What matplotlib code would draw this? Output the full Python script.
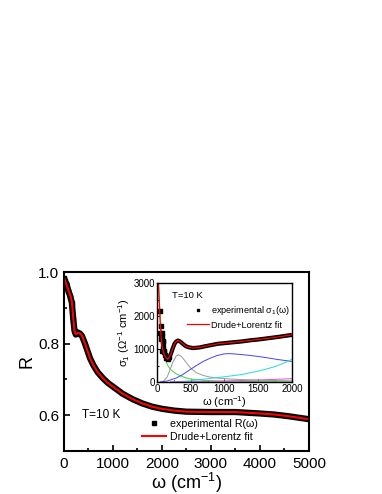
import matplotlib
matplotlib.use("Agg")
import matplotlib.pyplot as plt
from matplotlib.ticker import MultipleLocator

plt.rcParams['font.family'] = ['Liberation Sans', 'DejaVu Sans']
plt.rcParams['mathtext.fontset'] = 'custom'
plt.rcParams['mathtext.rm'] = 'Liberation Sans'
plt.rcParams['mathtext.it'] = 'Liberation Sans:italic'

# main panel: reflectivity
w_R = [0, 20, 50, 90, 130, 160, 190, 215, 240, 290, 330, 370, 430, 530, 600, 690,
       800, 900, 1000, 1200, 1400, 1600, 1800, 2000, 2250, 2500, 3000, 3500,
       4000, 4300, 4600, 5000]
R_exp = [0.985, 0.975, 0.968, 0.948, 0.932, 0.915, 0.868, 0.836, 0.826, 0.831, 0.828,
         0.821, 0.800, 0.760, 0.740, 0.720, 0.703, 0.690, 0.680, 0.660, 0.645, 0.633,
         0.624, 0.618, 0.613, 0.610, 0.609, 0.609, 0.605, 0.602, 0.597, 0.589]
R_fit = [0.985, 0.978, 0.965, 0.950, 0.935, 0.918, 0.870, 0.835, 0.827, 0.830, 0.829,
         0.822, 0.800, 0.760, 0.740, 0.720, 0.703, 0.690, 0.680, 0.660, 0.645, 0.633,
         0.624, 0.618, 0.613, 0.610, 0.609, 0.609, 0.605, 0.602, 0.597, 0.589]

# inset: optical conductivity
w_s = [45, 50, 55, 60, 65, 70, 75, 80, 85, 90, 95, 100, 110, 120, 135, 160, 185, 210,
       235, 260, 285, 310, 335, 360, 400, 435, 480, 535, 585, 635, 700, 800, 900,
       1000, 1100, 1250, 1400, 1500, 1650, 1800, 2000]
s_exp = [1500, 2150, 1700, 1450, 1300, 1500, 950, 1400, 1250, 1050, 1200, 900, 950,
         820, 730, 690, 760, 880, 1030, 1160, 1230, 1260, 1240, 1200, 1130, 1080,
         1050, 1030, 1040, 1050, 1080, 1120, 1160, 1180, 1200, 1230, 1270, 1290,
         1330, 1370, 1430]
w_fit = [20, 30, 40, 50, 60, 75, 90, 110, 135, 160, 185, 210, 235, 260, 285, 310,
         335, 360, 400, 435, 480, 535, 585, 635, 700, 800, 900, 1000, 1100, 1250,
         1400, 1500, 1650, 1800, 2000]
s_fit = [3100, 2600, 2100, 1700, 1400, 1100, 950, 820, 730, 690, 760, 880, 1030,
         1160, 1230, 1260, 1240, 1200, 1130, 1080, 1050, 1030, 1040, 1050, 1080,
         1120, 1160, 1180, 1200, 1230, 1270, 1290, 1330, 1370, 1430]

w_drude = [20, 40, 60, 85, 110, 135, 160, 185, 235, 285, 335, 435, 535, 685, 900,
           1200, 1600, 2000]
s_drude = [3100, 2300, 1700, 1100, 800, 620, 500, 420, 320, 250, 200, 120, 80, 50,
           30, 20, 12, 8]
w_l1 = [50, 100, 150, 185, 235, 285, 320, 360, 400, 450, 500, 585, 685, 785, 900,
        1085, 1300, 1600, 2000]
s_l1 = [0, 30, 150, 330, 600, 790, 830, 780, 680, 550, 420, 280, 200, 150, 120, 90,
        70, 50, 35]
w_l2 = [50, 150, 285, 385, 485, 585, 685, 785, 885, 985, 1035, 1100, 1185, 1300,
        1485, 1650, 1785, 2000]
s_l2 = [0, 30, 120, 230, 370, 500, 625, 720, 800, 850, 860, 860, 845, 825, 780, 730,
        685, 625]
w_l3 = [200, 300, 500, 750, 1000, 1250, 1500, 1650, 1750, 1900, 2000]
s_l3 = [0, 10, 40, 100, 160, 225, 330, 410, 470, 590, 690]
w_l4 = [200, 500, 1000, 1500, 2000]
s_l4 = [0, 8, 30, 60, 100]
w_l5 = [0, 2000]
s_l5 = [10, 10]

fig = plt.figure(figsize=(3.82, 4.94), dpi=100)
ax = fig.add_axes([0.1675, 0.087, 0.641, 0.362])

ax.plot(w_R, R_exp, color='black', lw=4.5, solid_capstyle='butt')
ax.plot(w_R[:9], R_exp[:9], 's', color='black', ms=3.5)
ax.plot(w_R, R_fit, color='red', lw=1.5)
exp_h, = ax.plot([], [], 's', color='black', ms=3.5)
fit_h, = ax.plot([], [], color='red', lw=1.5)

ax.set_xlim(0, 5000)
ax.set_ylim(0.5, 1.0)
ax.xaxis.set_major_locator(MultipleLocator(1000))
ax.xaxis.set_minor_locator(MultipleLocator(500))
ax.yaxis.set_major_locator(MultipleLocator(0.2))
ax.yaxis.set_minor_locator(MultipleLocator(0.1))
ax.tick_params(which='both', direction='in', labelsize=11, width=1.2)
ax.tick_params(which='major', length=4)
ax.tick_params(which='minor', length=2.5)
ax.tick_params(axis='x', pad=4)
for s in ax.spines.values():
    s.set_linewidth(1.5)
ax.set_xlabel('ω (cm$^{-1}$)', fontsize=13, labelpad=0)
ax.set_ylabel('R', fontsize=13, labelpad=2)
ax.text(360, 0.6, 'T=10 K', fontsize=8.5, va='center')
ax.legend([exp_h, fit_h], ['experimental R(ω)', 'Drude+Lorentz fit'],
          loc='upper left', bbox_to_anchor=(0.318, 0.18), frameon=False,
          fontsize=7.7, handlelength=2.3, handletextpad=0.3, borderpad=0,
          borderaxespad=0, labelspacing=0.3)

ins = fig.add_axes([0.411, 0.2267, 0.353, 0.2])
ins.plot(w_drude, s_drude, color='#33dd33', lw=0.7)
ins.plot(w_l1, s_l1, color='#999999', lw=0.7)
ins.plot(w_l2, s_l2, color='#4444ee', lw=0.7)
ins.plot(w_l3, s_l3, color='#22dddd', lw=0.7)
ins.plot(w_l4, s_l4, color='#ee44ee', lw=0.7)
ins.plot(w_l5, s_l5, color='#33aa33', lw=0.7)
ins.plot(w_s[16:], s_exp[16:], color='black', lw=3, solid_capstyle='butt')
ins.plot(w_s[:17], s_exp[:17], 's', color='black', ms=2.2)
ins.plot(w_fit, s_fit, color='red', lw=0.9)
sexp_h, = ins.plot([], [], 's', color='black', ms=2)
sfit_h, = ins.plot([], [], color='red', lw=0.9)

ins.set_xlim(0, 2000)
ins.set_ylim(0, 3000)
ins.xaxis.set_major_locator(MultipleLocator(500))
ins.xaxis.set_minor_locator(MultipleLocator(250))
ins.yaxis.set_major_locator(MultipleLocator(1000))
ins.yaxis.set_minor_locator(MultipleLocator(500))
ins.tick_params(which='both', direction='in', labelsize=7, width=0.8, pad=1.5)
ins.tick_params(which='major', length=2.5)
ins.tick_params(which='minor', length=1.5)
for s in ins.spines.values():
    s.set_linewidth(1.0)
ins.set_xlabel('ω (cm$^{-1}$)', fontsize=8, labelpad=0)
ins.set_ylabel('σ$_1$ (Ω$^{-1}$ cm$^{-1}$)', fontsize=8, labelpad=1)
ins.text(220, 2640, 'T=10 K', fontsize=6.8, va='center')
ins.legend([sexp_h, sfit_h], ['experimental σ$_1$(ω)', 'Drude+Lorentz fit'],
           loc='upper left', bbox_to_anchor=(0.22, 0.79), frameon=False,
           fontsize=6.6, handlelength=2.4, handletextpad=0.3, borderpad=0,
           borderaxespad=0, labelspacing=0.4)

fig.savefig('out.png', dpi=100)
